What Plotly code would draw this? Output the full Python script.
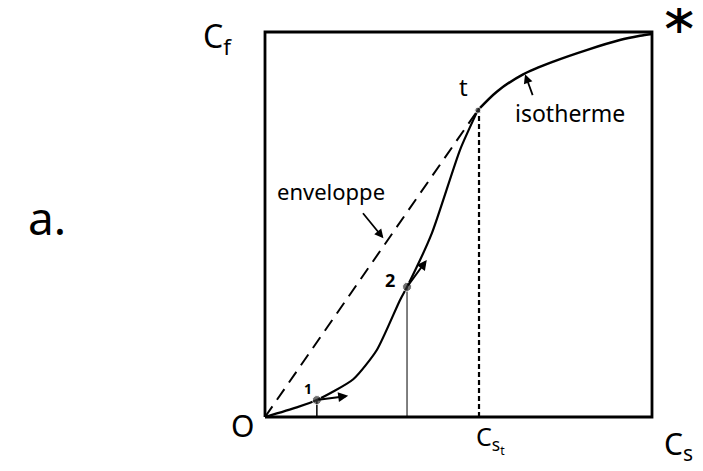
import plotly.graph_objects as go

# isotherme (lower branch O -> t, upper branch t -> *)
iso_low_x = [0.0, 0.082, 0.134, 0.228, 0.289, 0.349, 0.367, 0.431, 0.504, 0.55]
iso_low_y = [0.0, 0.025, 0.044, 0.098, 0.174, 0.304, 0.338, 0.477, 0.694, 0.797]
iso_up_x = [0.55, 0.599, 0.667, 0.745, 0.831, 0.917, 0.969, 1.0]
iso_up_y = [0.797, 0.845, 0.890, 0.923, 0.953, 0.979, 0.990, 0.995]
# enveloppe (O -> t)
env_x = [0.0, 0.55]
env_y = [0.0, 0.797]
# marked points 1, 2, t
pt_names = ["1", "2", "t"]
pt_x = [0.134, 0.367, 0.55]
pt_y = [0.044, 0.338, 0.797]
cst_x = 0.553

FONT = "Noto Sans"
fig = go.Figure()

# frame
fig.add_trace(go.Scatter(x=[0, 0, 1, 1, 0], y=[0, 1, 1, 0, 0], mode="lines",
                         line=dict(color="black", width=2.8), hoverinfo="skip"))
# envelope
fig.add_trace(go.Scatter(x=env_x, y=env_y, mode="lines",
                         line=dict(color="black", width=2, dash="13px,8px")))
# isotherm
fig.add_trace(go.Scatter(x=iso_low_x, y=iso_low_y, mode="lines", line_shape="spline",
                         line=dict(color="black", width=2.2, smoothing=0.6)))
fig.add_trace(go.Scatter(x=iso_up_x, y=iso_up_y, mode="lines", line_shape="spline",
                         line=dict(color="black", width=2.5, smoothing=0.8)))
# verticals
fig.add_trace(go.Scatter(x=[cst_x, cst_x], y=[0, pt_y[2]], mode="lines",
                         line=dict(color="black", width=2.2, dash="5px,3px")))
fig.add_trace(go.Scatter(x=[pt_x[1], pt_x[1]], y=[0, pt_y[1]], mode="lines",
                         line=dict(color="black", width=1)))
fig.add_trace(go.Scatter(x=[pt_x[0], pt_x[0]], y=[0, pt_y[0]], mode="lines",
                         line=dict(color="black", width=1.5)))
# points
fig.add_trace(go.Scatter(x=pt_x, y=pt_y, mode="markers",
                         marker=dict(color="#333", size=[9, 9, 6])))

annots = []
def arrow(x, y, ax, ay, w=2):
    annots.append(dict(x=x, y=y, ax=ax, ay=ay, xref="x", yref="y", axref="x", ayref="y",
                       showarrow=True, arrowhead=2, arrowsize=1, arrowwidth=w,
                       arrowcolor="black", text=""))

# direction arrows at points 1 and 2
arrow(0.215, 0.055, pt_x[0], pt_y[0])
arrow(0.418, 0.408, pt_x[1], pt_y[1])
# label arrows
arrow(0.672, 0.890, 0.693, 0.832, 1.8)
arrow(0.306, 0.464, 0.25, 0.533, 1.8)

def txt(x, y, s, size, xanchor="center", bold=False, family=FONT, **kw):
    if bold:
        s = "<b>" + s + "</b>"
    annots.append(dict(x=x, y=y, xref="x", yref="y", text=s, showarrow=False,
                       font=dict(family=family, size=size, color="black"),
                       xanchor=xanchor, **kw))

txt(-0.124, 0.985, "C<sub>f</sub>", 32)
txt(1.07, 1.037, "∗", 46, family="DejaVu Sans", height=30, valign="middle")
txt(0.512, 0.858, "t", 24)
txt(0.788, 0.79, "isotherme", 23)
txt(0.171, 0.586, "enveloppe", 22)
txt(0.323, 0.356, "2", 18, bold=True)
txt(0.111, 0.075, "1", 14, bold=True)
txt(-0.058, -0.023, "O", 30)
txt(0.582, -0.057, "C<sub>s<sub>t</sub></sub>", 25)
txt(1.025, -0.072, "C<sub>s</sub>", 30, xanchor="left")
txt(-0.563, 0.519, "a.", 46)

# page body has an 8px margin: map frame (screen x 265..652, y 32..417) to data 0..1
OFF = 8
L, R, T, B = 265 - OFF, 652 - OFF, 32 - OFF, 417 - OFF
fig.update_layout(
    width=703, height=471, margin=dict(l=0, r=0, t=0, b=0),
    paper_bgcolor="white", plot_bgcolor="white", showlegend=False,
    annotations=annots,
    xaxis=dict(range=[-L / (R - L), (703 - L) / (R - L)], visible=False, fixedrange=True),
    yaxis=dict(range=[(B - 471) / (B - T), B / (B - T)], visible=False, fixedrange=True),
)
fig.write_html("out.html")
